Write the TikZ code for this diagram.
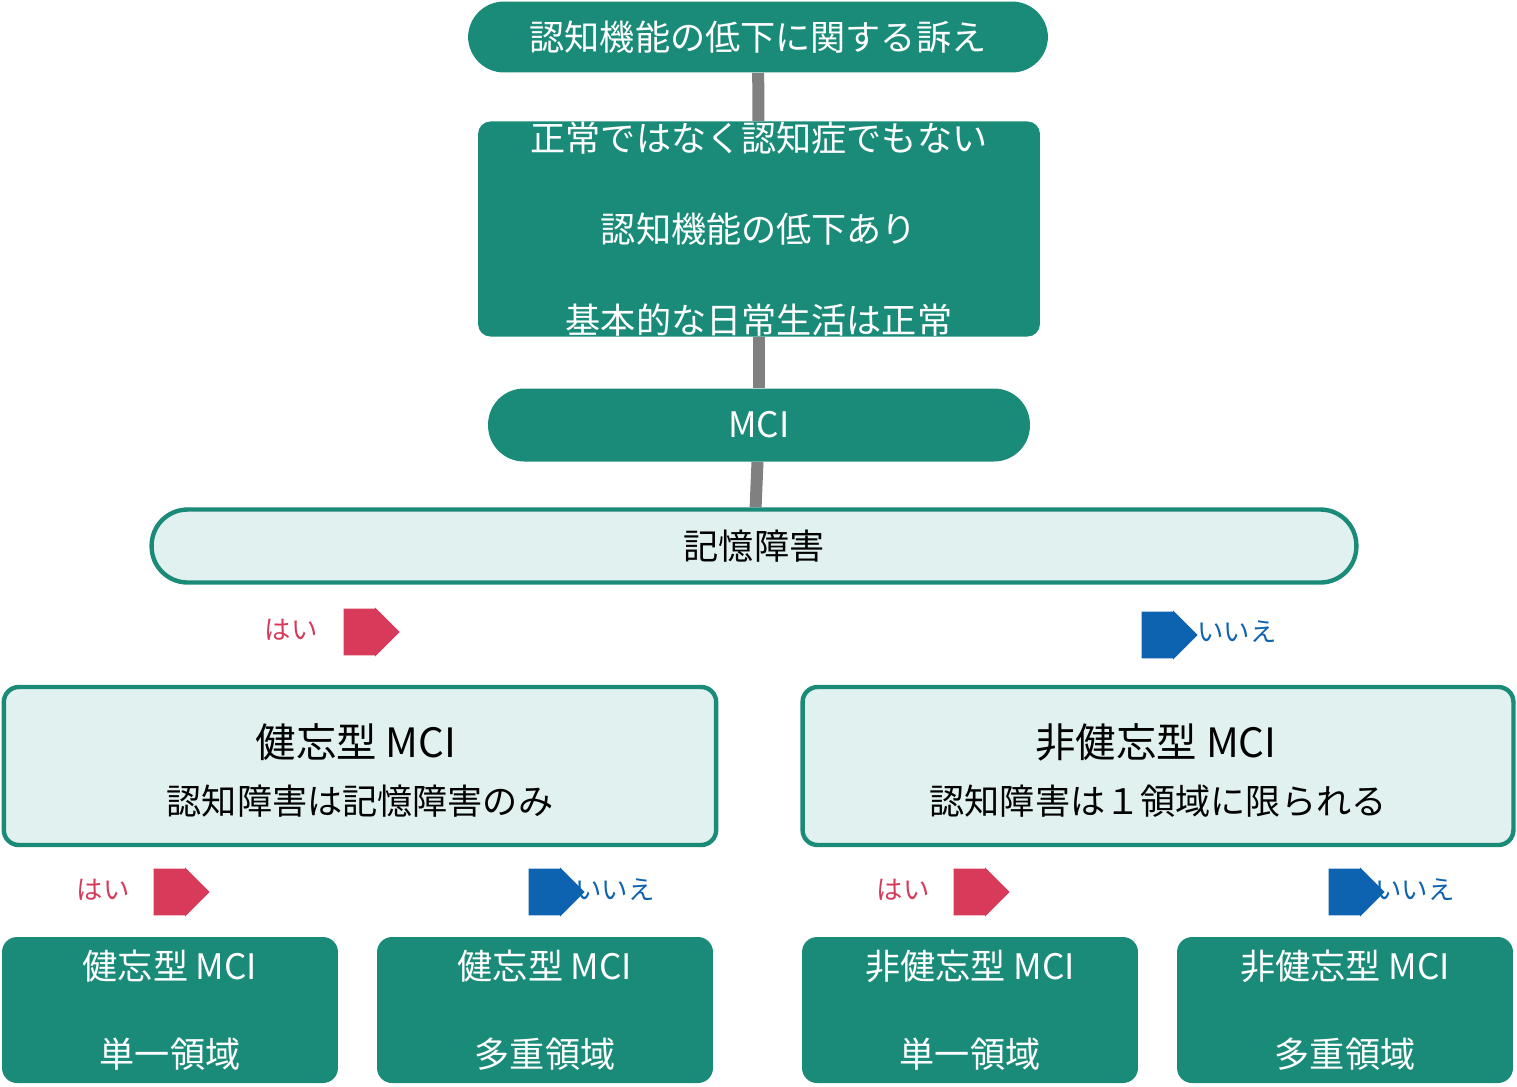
\documentclass[tikz,border=0pt]{standalone}
\usepackage{fontspec}
\setmainfont{Noto Sans CJK JP}
\usetikzlibrary{shapes.arrows}
\definecolor{teal1}{HTML}{1B8B79}
\definecolor{light1}{HTML}{E1F1EF}
\definecolor{yesred}{HTML}{D83A5A}
\definecolor{noblue}{HTML}{0D63B0}
\definecolor{link}{HTML}{808080}
\tikzset{
  darkbox/.style={fill=teal1, text=white, font=\fontsize{20pt}{30pt}\selectfont, align=center, inner sep=0pt},
  lightbox/.style={fill=light1, draw=teal1, line width=2.5pt, inner sep=0pt},
  yesarrow/.style={single arrow, fill=yesred, shape border rotate=-90, minimum width=0.98cm, single arrow head extend=0.01cm, minimum height=1.12cm, inner sep=0.2cm},
  noarrow/.style={yesarrow, fill=noblue},
  yeslbl/.style={text=yesred, font=\fontsize{15pt}{18pt}\selectfont},
  nolbl/.style={text=noblue, font=\fontsize{15pt}{18pt}\selectfont},
}
\begin{document}
\begin{tikzpicture}[x=0.02cm, y=-0.02cm]
	\useasboundingbox (0,0) rectangle (1517,1086);

	\node[darkbox, rounded corners=0.72cm, minimum width=11.6cm, minimum height=1.42cm](TOP) at (758,37){認知機能の低下に関する訴え};
	\node[darkbox, rounded corners=0.25cm, minimum width=11.24cm, minimum height=4.22cm, font=\fontsize{20pt}{52pt}\selectfont](STATE) at (759,229){正常ではなく認知症でもない\\認知機能の低下あり\\基本的な日常生活は正常};
	\node[darkbox, rounded corners=0.72cm, minimum width=10.84cm, minimum height=1.46cm](MCI) at (759,425){MCI};
	\node[lightbox, rounded corners=0.72cm, minimum width=24.1cm, minimum height=1.46cm, font=\fontsize{20pt}{24pt}\selectfont](MEM) at (754,546){記憶障害};

	\draw[link, line width=0.24cm] (TOP) -- (STATE);
	\draw[link, line width=0.24cm] (STATE) -- (MCI);
	\draw[link, line width=0.24cm] (MCI) -- (MEM);

	% first branch
	\node[yesarrow](A1) at (360,632){};
	\node[yeslbl](A1L) at (291,630){はい};
	\node[noarrow](A2) at (1158,635){};
	\node[nolbl](A2L) at (1237,632){いいえ};

	\node[lightbox, rounded corners=0.3cm, minimum width=14.25cm, minimum height=3.16cm](AM) at (360,766){};
	\node[font=\fontsize{23pt}{28pt}\selectfont](AMT) at (356,742){健忘型 MCI};
	\node[font=\fontsize{20pt}{24pt}\selectfont](AMS) at (360,801){認知障害は記憶障害のみ};

	\node[lightbox, rounded corners=0.3cm, minimum width=14.22cm, minimum height=3.16cm](NM) at (1158,766){};
	\node[font=\fontsize{23pt}{28pt}\selectfont](NMT) at (1156,742){非健忘型 MCI};
	\node[font=\fontsize{20pt}{24pt}\selectfont](NMS) at (1158,801){認知障害は１領域に限られる};

	% second branch
	\node[yesarrow](B1) at (170,892){};
	\node[yeslbl](B1L) at (103,890){はい};
	\node[noarrow](B2) at (545,892){};
	\node[nolbl](B2L) at (615,890){いいえ};
	\node[yesarrow](B3) at (970,892){};
	\node[yeslbl](B3L) at (903,890){はい};
	\node[noarrow](B4) at (1345,892){};
	\node[nolbl](B4L) at (1415,890){いいえ};

	\node[darkbox, rounded corners=0.3cm, minimum width=6.72cm, minimum height=2.92cm, font=\fontsize{20pt}{50pt}\selectfont](R1) at (170,1010){健忘型 MCI\\単一領域};
	\node[darkbox, rounded corners=0.3cm, minimum width=6.72cm, minimum height=2.92cm, font=\fontsize{20pt}{50pt}\selectfont](R2) at (545,1010){健忘型 MCI\\多重領域};
	\node[darkbox, rounded corners=0.3cm, minimum width=6.72cm, minimum height=2.92cm, font=\fontsize{20pt}{50pt}\selectfont](R3) at (970,1010){非健忘型 MCI\\単一領域};
	\node[darkbox, rounded corners=0.3cm, minimum width=6.72cm, minimum height=2.92cm, font=\fontsize{20pt}{50pt}\selectfont](R4) at (1345,1010){非健忘型 MCI\\多重領域};
\end{tikzpicture}
\end{document}
